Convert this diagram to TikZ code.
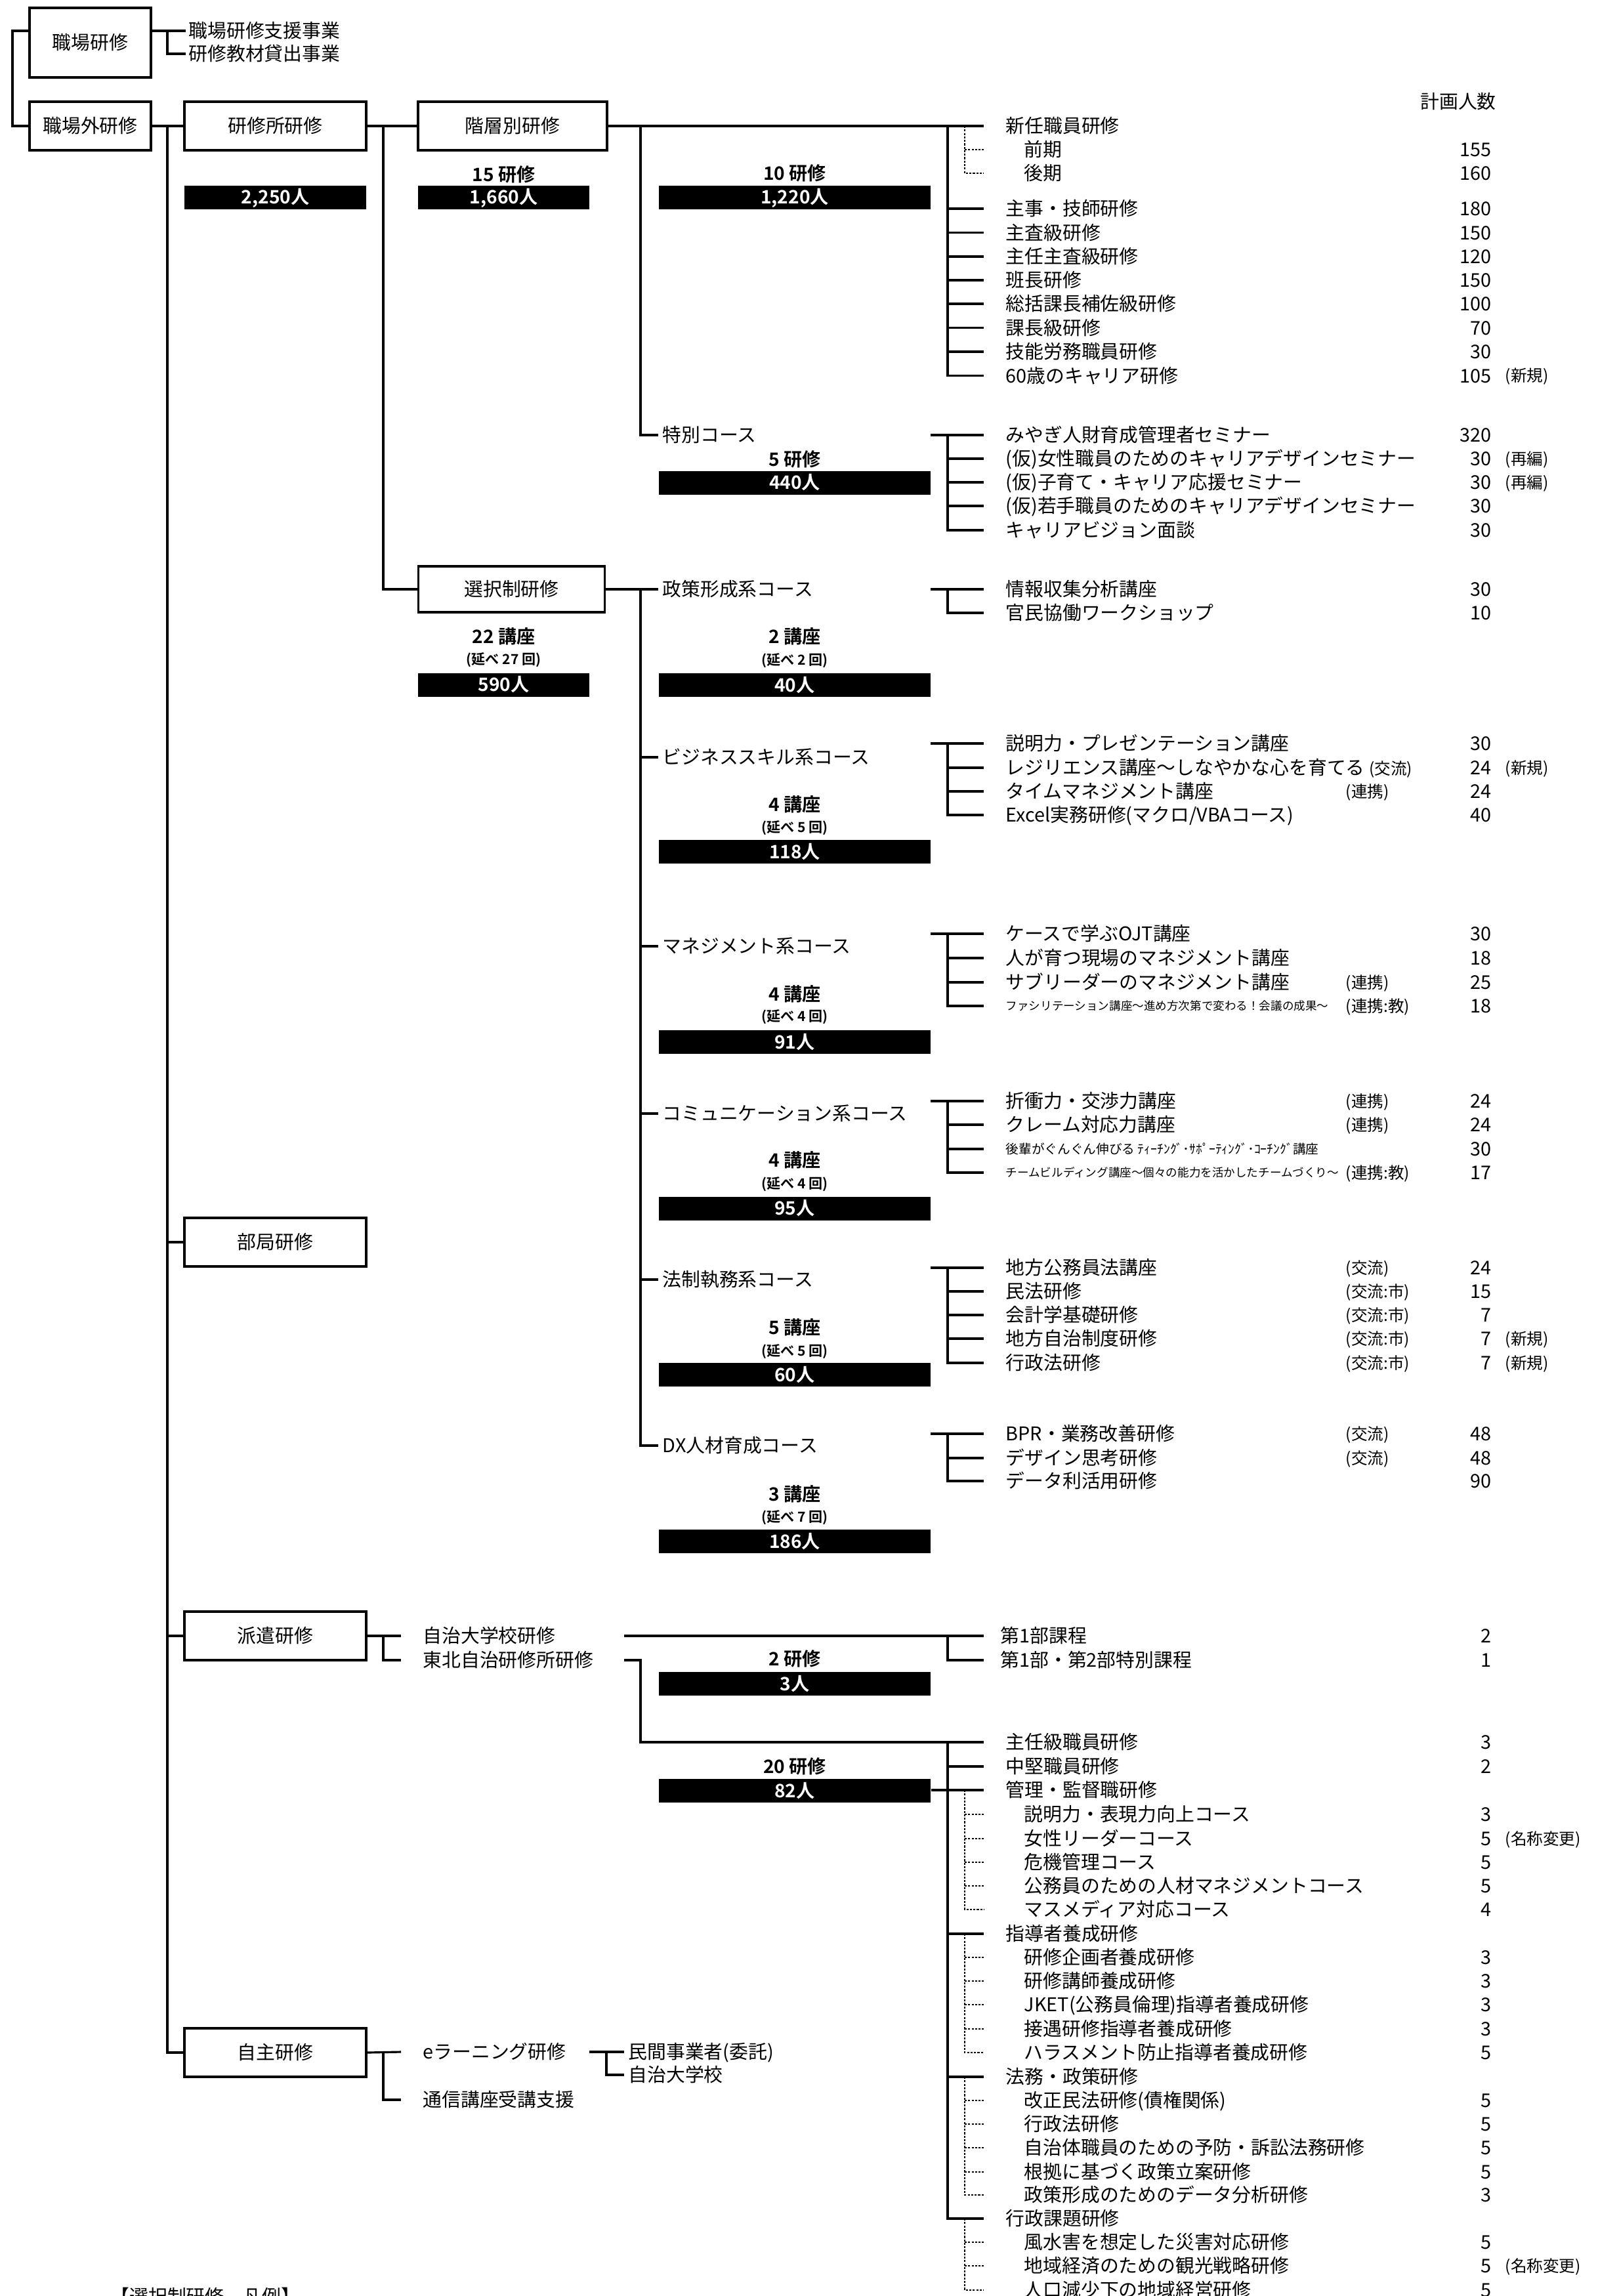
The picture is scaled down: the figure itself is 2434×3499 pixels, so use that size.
\documentclass[tikz,border=0pt]{standalone}
\usepackage{fontspec}
\setmainfont{Noto Sans CJK JP}[BoldFont={Noto Sans CJK JP Bold}]
\newcommand\fsz[1]{\fontsize{#1}{#1}\selectfont}
\tikzset{
 ln/.style={line width=0.9pt},
 dt/.style={line width=0.8pt, dash pattern=on 0.9pt off 0.6pt},
 box/.style={draw, line width=1pt, fill=white, inner sep=0, font=\fsz{8.2pt}, minimum width=27.7mm, minimum height=7.4mm},
 bar/.style={fill=black, text=white, inner sep=0, font=\bfseries\fsz{8pt}, minimum width=41.4mm, minimum height=3.6mm},
 cnt/.style={inner sep=0, font=\bfseries\fsz{8pt}},
 nob/.style={inner sep=0, font=\bfseries\fsz{6pt}},
 itm/.style={anchor=west, inner sep=0, font=\fsz{8.2pt}, text height=7.2pt, text depth=1pt},
 sml/.style={font=\fsz{5pt}, text height=4.4pt, text depth=0.6pt},
 smm/.style={font=\fsz{5.6pt}, text height=4.9pt, text depth=0.7pt},
 nt/.style={anchor=west, inner sep=0, font=\fsz{7pt}, text height=6.1pt, text depth=0.9pt},
 nm/.style={anchor=east, inner sep=0, font=\fsz{8.2pt}, text height=7.2pt, text depth=1pt},
 rm/.style={anchor=west, inner sep=0, font=\fsz{7pt}, text height=6.1pt, text depth=0.9pt},
}
% #1 extra style, #2 name, #3 x, #4 y, #5 text, #6 note, #7 number, #8 remark
\newcommand\Itm[8][]{%
 \node[itm,#1] (#2) at (#3,#4) {#5};
 \node[nt] (#2n) at (2050,#4) {#6};
 \node[nm] (#2v) at (2273,#4) {#7};
 \node[rm] (#2r) at (2293,#4) {#8};}
\newcommand\Tk[1]{\draw[ln] (1444,0 |- #1.west) -- ([xshift=-3.3mm]#1.west);}
\newcommand\Dk[1]{\draw[dt] (1470,0 |- #1.west) -- ([xshift=-6.1mm]#1.west);}
\newcommand\Ck[1]{\draw[ln] (976,0 |- #1.west) -- ([xshift=-0.6mm]#1.west);}
\begin{document}
\begin{tikzpicture}[x=0.1mm,y=-0.1mm]
\useasboundingbox (0,0) rectangle (2434,3499);
\fill[white] (0,0) rectangle (2434,3499);

% ---------- left boxes ----------
\node[box, minimum width=18.5mm, minimum height=10.6mm] (shokuba) at (137.5,65) {職場研修};
\node[box, minimum width=18.5mm] (gai) at (137.5,192) {職場外研修};
\node[box] (kjs) at (419.5,192) {研修所研修};
\node[box, minimum width=28.8mm] (kaiso) at (781,192) {階層別研修};
\node[box, minimum width=28.4mm, minimum height=7.0mm] (sentaku) at (779.5,898) {選択制研修};
\node[box] (bukyoku) at (419.5,1893) {部局研修};
\node[box] (haken) at (419.5,2493) {派遣研修};
\node[box] (jishu) at (419.5,3128) {自主研修};

\node[itm] (sj1) at (287,47) {職場研修支援事業};
\node[itm] (sj2) at (287,82) {研修教材貸出事業};
\node[inner sep=0, font=\fsz{8.2pt}] (hdr) at (2222,155) {計画人数};

% ---------- left connectors ----------
\draw[ln] (shokuba.west |- 0,47) -- (19,47) |- (gai.west);
\draw[ln] (shokuba.east |- 0,47) -- ([xshift=-0.4mm]sj1.west);
\draw[ln] (255,0 |- sj1.west) |- ([xshift=-0.4mm]sj2.west);
\draw[ln] (gai.east) -- (kjs.west);
\draw[ln] (255,192) |- (jishu.west);
\draw[ln] (255,0 |- bukyoku.west) -- (bukyoku.west);
\draw[ln] (255,0 |- haken.west) -- (haken.west);
\draw[ln] (kjs.east) -- (kaiso.west);
\draw[ln] (584,192) |- (sentaku.west);

% ---------- counts & bars ----------
\node[bar, minimum width=27.7mm] (b2250) at (419.5,301.5) {2,250人};
\node[cnt] (c15) at (767.5,266) {15 研修};
\node[bar, minimum width=26.1mm] (b1660) at (767.5,301.5) {1,660人};
\node[cnt] (c22) at (767.5,970) {22 講座};
\node[nob] (n27) at (767.5,1006) {(延べ 27 回)};
\node[bar, minimum width=26.1mm] (b590) at (767.5,1043.5) {590人};

\node[cnt] (c10) at (1211,264) {10 研修};
\node[bar] (b1220) at (1211,301.5) {1,220人};
\node[cnt] (c5) at (1211,700) {5 研修};
\node[bar] (b440) at (1211,735.5) {440人};
\node[cnt] (c2k) at (1211,970) {2 講座};
\node[nob] (n2) at (1211,1007) {(延べ 2 回)};
\node[bar] (b40) at (1211,1044) {40人};
\node[cnt] (c4a) at (1211,1226) {4 講座};
\node[nob] (n5a) at (1211,1262) {(延べ 5 回)};
\node[bar] (b118) at (1211,1298) {118人};
\node[cnt] (c4b) at (1211,1515) {4 講座};
\node[nob] (n4b) at (1211,1550) {(延べ 4 回)};
\node[bar] (b91) at (1211,1588) {91人};
\node[cnt] (c4c) at (1211,1768) {4 講座};
\node[nob] (n4c) at (1211,1805) {(延べ 4 回)};
\node[bar] (b95) at (1211,1841.5) {95人};
\node[cnt] (c5k) at (1211,2023) {5 講座};
\node[nob] (n5k) at (1211,2060) {(延べ 5 回)};
\node[bar] (b60) at (1211,2095) {60人};
\node[cnt] (c3k) at (1211,2277) {3 講座};
\node[nob] (n7k) at (1211,2313) {(延べ 7 回)};
\node[bar] (b186) at (1211,2349) {186人};
\node[cnt] (c2h) at (1211,2528) {2 研修};
\node[bar] (b3) at (1211,2566) {3人};
\node[cnt] (c20) at (1211,2692) {20 研修};
\node[bar] (b82) at (1211,2729) {82人};

% ---------- 階層別研修 ----------
\Itm{s1}{1532}{192}{新任職員研修}{}{}{}
\Itm{sa}{1560}{228}{前期}{}{155}{}
\Itm{sb}{1560}{264}{後期}{}{160}{}
\Itm{s2}{1532}{318}{主事・技師研修}{}{180}{}
\Itm{s3}{1532}{354.5}{主査級研修}{}{150}{}
\Itm{s4}{1532}{391}{主任主査級研修}{}{120}{}
\Itm{s5}{1532}{427}{班長研修}{}{150}{}
\Itm{s6}{1532}{463}{総括課長補佐級研修}{}{100}{}
\Itm{s7}{1532}{499.5}{課長級研修}{}{70}{}
\Itm{s8}{1532}{536}{技能労務職員研修}{}{30}{}
\Itm{s9}{1532}{572.5}{60歳のキャリア研修}{}{105}{(新規)}
\draw[ln] (kaiso.east) -- ([xshift=-3.3mm]s1.west);
\draw[ln] (1444,0 |- s1.west) |- ([xshift=-3.3mm]s9.west);
\Tk{s2}\Tk{s3}\Tk{s4}\Tk{s5}\Tk{s6}\Tk{s7}\Tk{s8}
\draw[dt] (1470,0 |- s1.west) |- ([xshift=-6.1mm]sb.west);
\Dk{sa}

% ---------- 特別コース ----------
\node[itm] (k1) at (1009,663) {特別コース};
\draw[ln] (976,192) |- ([xshift=-0.6mm]k1.west);
\Itm{t1}{1532}{663}{みやぎ人財育成管理者セミナー}{}{320}{}
\Itm{t2}{1532}{699}{(仮)女性職員のためのキャリアデザインセミナー}{}{30}{(再編)}
\Itm{t3}{1532}{735}{(仮)子育て・キャリア応援セミナー}{}{30}{(再編)}
\Itm{t4}{1532}{771}{(仮)若手職員のためのキャリアデザインセミナー}{}{30}{}
\Itm{t5}{1532}{808}{キャリアビジョン面談}{}{30}{}
\draw[ln] (1418,0 |- t1.west) -- ([xshift=-3.3mm]t1.west);
\draw[ln] (1444,0 |- t1.west) |- ([xshift=-3.3mm]t5.west);
\Tk{t2}\Tk{t3}\Tk{t4}

% ---------- 選択制研修 courses ----------
\node[itm] (cs1) at (1009,898) {政策形成系コース};
\node[itm] (cs2) at (1009,1154) {ビジネススキル系コース};
\node[itm] (cs3) at (1009,1442) {マネジメント系コース};
\node[itm] (cs4) at (1009,1697) {コミュニケーション系コース};
\node[itm] (cs5) at (1009,1950) {法制執務系コース};
\node[itm] (cs6) at (1009,2203) {DX人材育成コース};
\draw[ln] (sentaku.east) -- ([xshift=-0.6mm]cs1.west);
\draw[ln] (976,0 |- cs1.west) |- ([xshift=-0.6mm]cs6.west);
\Ck{cs2}\Ck{cs3}\Ck{cs4}\Ck{cs5}

% 政策形成
\Itm{p1}{1532}{898}{情報収集分析講座}{}{30}{}
\Itm{p2}{1532}{934}{官民協働ワークショップ}{}{10}{}
\draw[ln] (1418,0 |- p1.west) -- ([xshift=-3.3mm]p1.west);
\draw[ln] (1444,0 |- p1.west) |- ([xshift=-3.3mm]p2.west);

% ビジネススキル
\Itm{bs1}{1532}{1133}{説明力・プレゼンテーション講座}{}{30}{}
\Itm{bs2}{1532}{1170}{レジリエンス講座～しなやかな心を育てる~{\fsz{7pt}(交流)}}{}{24}{(新規)}
\Itm{bs3}{1532}{1206}{タイムマネジメント講座}{(連携)}{24}{}
\Itm{bs4}{1532}{1242}{Excel実務研修(マクロ/VBAコース)}{}{40}{}
\draw[ln] (1418,0 |- bs1.west) -- ([xshift=-3.3mm]bs1.west);
\draw[ln] (1444,0 |- bs1.west) |- ([xshift=-3.3mm]bs4.west);
\Tk{bs2}\Tk{bs3}

% マネジメント
\Itm{mg1}{1532}{1423}{ケースで学ぶOJT講座}{}{30}{}
\Itm{mg2}{1532}{1460}{人が育つ現場のマネジメント講座}{}{18}{}
\Itm{mg3}{1532}{1497}{サブリーダーのマネジメント講座}{(連携)}{25}{}
\Itm[sml]{mg4}{1532}{1533}{ファシリテーション講座～進め方次第で変わる！会議の成果～}{(連携:教)}{18}{}
\draw[ln] (1418,0 |- mg1.west) -- ([xshift=-3.3mm]mg1.west);
\draw[ln] (1444,0 |- mg1.west) |- ([xshift=-3.3mm]mg4.west);
\Tk{mg2}\Tk{mg3}

% コミュニケーション
\Itm{cm1}{1532}{1678}{折衝力・交渉力講座}{(連携)}{24}{}
\Itm{cm2}{1532}{1714}{クレーム対応力講座}{(連携)}{24}{}
\Itm[smm]{cm3}{1532}{1751}{後輩がぐんぐん伸びる ﾃｨｰﾁﾝｸﾞ･ｻﾎﾟｰﾃｨﾝｸﾞ･ｺｰﾁﾝｸﾞ講座}{}{30}{}
\Itm[sml]{cm4}{1532}{1787}{チームビルディング講座～個々の能力を活かしたチームづくり～}{(連携:教)}{17}{}
\draw[ln] (1418,0 |- cm1.west) -- ([xshift=-3.3mm]cm1.west);
\draw[ln] (1444,0 |- cm1.west) |- ([xshift=-3.3mm]cm4.west);
\Tk{cm2}\Tk{cm3}

% 法制執務
\Itm{hs1}{1532}{1932}{地方公務員法講座}{(交流)}{24}{}
\Itm{hs2}{1532}{1968}{民法研修}{(交流:市)}{15}{}
\Itm{hs3}{1532}{2004}{会計学基礎研修}{(交流:市)}{7}{}
\Itm{hs4}{1532}{2040}{地方自治制度研修}{(交流:市)}{7}{(新規)}
\Itm{hs5}{1532}{2077}{行政法研修}{(交流:市)}{7}{(新規)}
\draw[ln] (1418,0 |- hs1.west) -- ([xshift=-3.3mm]hs1.west);
\draw[ln] (1444,0 |- hs1.west) |- ([xshift=-3.3mm]hs5.west);
\Tk{hs2}\Tk{hs3}\Tk{hs4}

% DX
\Itm{dx1}{1532}{2185}{BPR・業務改善研修}{(交流)}{48}{}
\Itm{dx2}{1532}{2222}{デザイン思考研修}{(交流)}{48}{}
\Itm{dx3}{1532}{2257}{データ利活用研修}{}{90}{}
\draw[ln] (1418,0 |- dx1.west) -- ([xshift=-3.3mm]dx1.west);
\draw[ln] (1444,0 |- dx1.west) |- ([xshift=-3.3mm]dx3.west);
\Tk{dx2}

% ---------- 派遣研修 ----------
\node[itm] (h1) at (644,2493) {自治大学校研修};
\node[itm] (h2) at (644,2530) {東北自治研修所研修};
\draw[ln] (haken.east) -- ([xshift=-3.3mm]h1.west);
\draw[ln] (584,0 |- h1.west) |- ([xshift=-3.3mm]h2.west);
\Itm{ja1}{1524}{2493}{第1部課程}{}{2}{}
\Itm{ja2}{1524}{2530}{第1部・第2部特別課程}{}{1}{}
\draw[ln] (951,0 |- h1.west) -- ([xshift=-2.5mm]ja1.west);
\draw[ln] (1444,0 |- ja1.west) |- ([xshift=-2.5mm]ja2.west);

% 東北自治研修所
\Itm{q1}{1532}{2655}{主任級職員研修}{}{3}{}
\Itm{q2}{1532}{2692}{中堅職員研修}{}{2}{}
\Itm{q3}{1532}{2728}{管理・監督職研修}{}{}{}
\Itm{qa1}{1560}{2765}{説明力・表現力向上コース}{}{3}{}
\Itm{qa2}{1560}{2802}{女性リーダーコース}{}{5}{(名称変更)}
\Itm{qa3}{1560}{2838}{危機管理コース}{}{5}{}
\Itm{qa4}{1560}{2874}{公務員のための人材マネジメントコース}{}{5}{}
\Itm{qa5}{1560}{2910}{マスメディア対応コース}{}{4}{}
\Itm{q4}{1532}{2947}{指導者養成研修}{}{}{}
\Itm{qb1}{1560}{2983}{研修企画者養成研修}{}{3}{}
\Itm{qb2}{1560}{3019}{研修講師養成研修}{}{3}{}
\Itm{qb3}{1560}{3055}{JKET(公務員倫理)指導者養成研修}{}{3}{}
\Itm{qb4}{1560}{3092}{接遇研修指導者養成研修}{}{3}{}
\Itm{qb5}{1560}{3128}{ハラスメント防止指導者養成研修}{}{5}{}
\Itm{q5}{1532}{3165}{法務・政策研修}{}{}{}
\Itm{qc1}{1560}{3201}{改正民法研修(債権関係)}{}{5}{}
\Itm{qc2}{1560}{3237}{行政法研修}{}{5}{}
\Itm{qc3}{1560}{3273}{自治体職員のための予防・訴訟法務研修}{}{5}{}
\Itm{qc4}{1560}{3310}{根拠に基づく政策立案研修}{}{5}{}
\Itm{qc5}{1560}{3345}{政策形成のためのデータ分析研修}{}{3}{}
\Itm{q6}{1532}{3381}{行政課題研修}{}{}{}
\Itm{qd1}{1560}{3417}{風水害を想定した災害対応研修}{}{5}{}
\Itm{qd2}{1560}{3453}{地域経済のための観光戦略研修}{}{5}{(名称変更)}
\Itm{qd3}{1560}{3490}{人口減少下の地域経営研修}{}{5}{}
\draw[ln] (951,0 |- h2.west) -| (976,0 |- q1.west) -- ([xshift=-3.3mm]q1.west);
\draw[ln] (1444,0 |- q1.west) |- ([xshift=-3.3mm]q6.west);
\Tk{q2}\Tk{q4}\Tk{q5}
\draw[ln] (b82.east |- q3.west) -- ([xshift=-3.3mm]q3.west);
\draw[dt] (1470,0 |- q3.west) |- ([xshift=-6.1mm]qa5.west);
\Dk{qa1}\Dk{qa2}\Dk{qa3}\Dk{qa4}
\draw[dt] (1470,0 |- q4.west) |- ([xshift=-6.1mm]qb5.west);
\Dk{qb1}\Dk{qb2}\Dk{qb3}\Dk{qb4}
\draw[dt] (1470,0 |- q5.west) |- ([xshift=-6.1mm]qc5.west);
\Dk{qc1}\Dk{qc2}\Dk{qc3}\Dk{qc4}
\draw[dt] (1470,0 |- q6.west) |- ([xshift=-6.1mm]qd3.west);
\Dk{qd1}\Dk{qd2}

% ---------- 自主研修 ----------
\node[itm] (e1) at (644,3127) {eラーニング研修};
\node[itm] (e2) at (644,3200) {通信講座受講支援};
\draw[ln] (jishu.east) -- ([xshift=-3.3mm]e1.west);
\draw[ln] (584,0 |- e1.west) |- ([xshift=-3.3mm]e2.west);
\node[itm] (m1) at (957,3127) {民間事業者(委託)};
\node[itm] (m2) at (957,3162) {自治大学校};
\draw[ln] (898,0 |- e1.west) -- ([xshift=-0.6mm]m1.west);
\draw[ln] (924,0 |- m1.west) |- ([xshift=-0.6mm]m2.west);

% legend (cut off at page bottom, as in the reference)
\node[itm] (leg) at (168,3500) {【選択制研修　凡例】};
\end{tikzpicture}
\end{document}
